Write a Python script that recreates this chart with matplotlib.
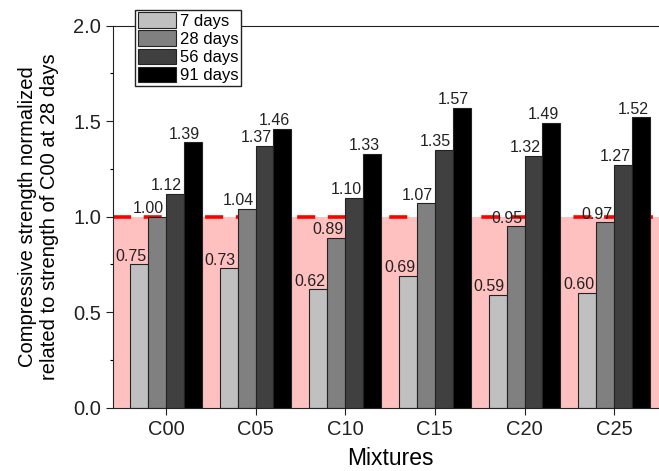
import numpy as np
import matplotlib
matplotlib.use("Agg")
import matplotlib.pyplot as plt
from matplotlib.patches import Patch

plt.rcParams["font.family"] = ["Liberation Sans", "DejaVu Sans"]

mixtures = ["C00", "C05", "C10", "C15", "C20", "C25"]
ages = ["7 days", "28 days", "56 days", "91 days"]
days_7 = [0.75, 0.73, 0.62, 0.69, 0.59, 0.60]
days_28 = [1.00, 1.04, 0.89, 1.07, 0.95, 0.97]
days_56 = [1.12, 1.37, 1.10, 1.35, 1.32, 1.27]
days_91 = [1.39, 1.46, 1.33, 1.57, 1.49, 1.52]
series = [days_7, days_28, days_56, days_91]
colors = ["#c0c0c0", "#808080", "#404040", "#000000"]

fig = plt.figure(figsize=(6.59, 4.71), dpi=100)
# axes runs a little past the right edge, like the cropped original
ax = fig.add_axes([0.1715, 0.1344, 0.8407, 0.8110])

x = np.arange(len(mixtures))
w = 0.2

ax.axhspan(0, 1.0, color="#ffc0c0", zorder=0, lw=0)
ax.axhline(1.0, color="#ff0000", lw=2.6, dashes=(5, 3.5), zorder=1)

for i, (vals, c) in enumerate(zip(series, colors)):
    pos = x + (i - 1.5) * w
    ax.bar(pos, vals, width=w, color=c, edgecolor="#222222", lw=0.8, zorder=2)
    for p, v in zip(pos, vals):
        ax.annotate(f"{v:.2f}", (p + w / 2, v), xytext=(-1.2, 0.5),
                    textcoords="offset points", ha="right", va="bottom",
                    fontsize=11.5, color="#222222", zorder=4)

ax.set_xlim(-0.59, 5.59)
ax.set_ylim(0, 2.0)
ax.set_xticks(x)
ax.set_xticklabels(mixtures)
ax.set_yticks([0, 0.5, 1.0, 1.5, 2.0])
ax.set_yticks(np.arange(0.25, 2.0, 0.5), minor=True)
ax.tick_params(axis="both", which="major", labelsize=14.5, direction="out",
               length=5, width=0.8, colors="#222222")
ax.tick_params(axis="y", which="minor", direction="out", length=2.5, width=0.8)
ax.set_xlabel("Mixtures", fontsize=16.5, labelpad=6)
ax.set_ylabel("Compressive strength normalized\nrelated to strength of C00 at 28 days",
              fontsize=14.5, labelpad=10)
for s in ax.spines.values():
    s.set_linewidth(0.8)
    s.set_color("#222222")

handles = [Patch(facecolor=c, edgecolor="#222222", lw=0.8) for c in colors]
fig.legend(handles, ages, loc="upper left", bbox_to_anchor=(0.205, 0.979),
           bbox_transform=fig.transFigure, fontsize=12, frameon=True,
           fancybox=False, edgecolor="#222222", framealpha=1,
           handlelength=2.3, handleheight=1.05, handletextpad=0.25,
           labelspacing=0.1, borderpad=0.15, borderaxespad=0)

fig.savefig("out.png", dpi=100)
